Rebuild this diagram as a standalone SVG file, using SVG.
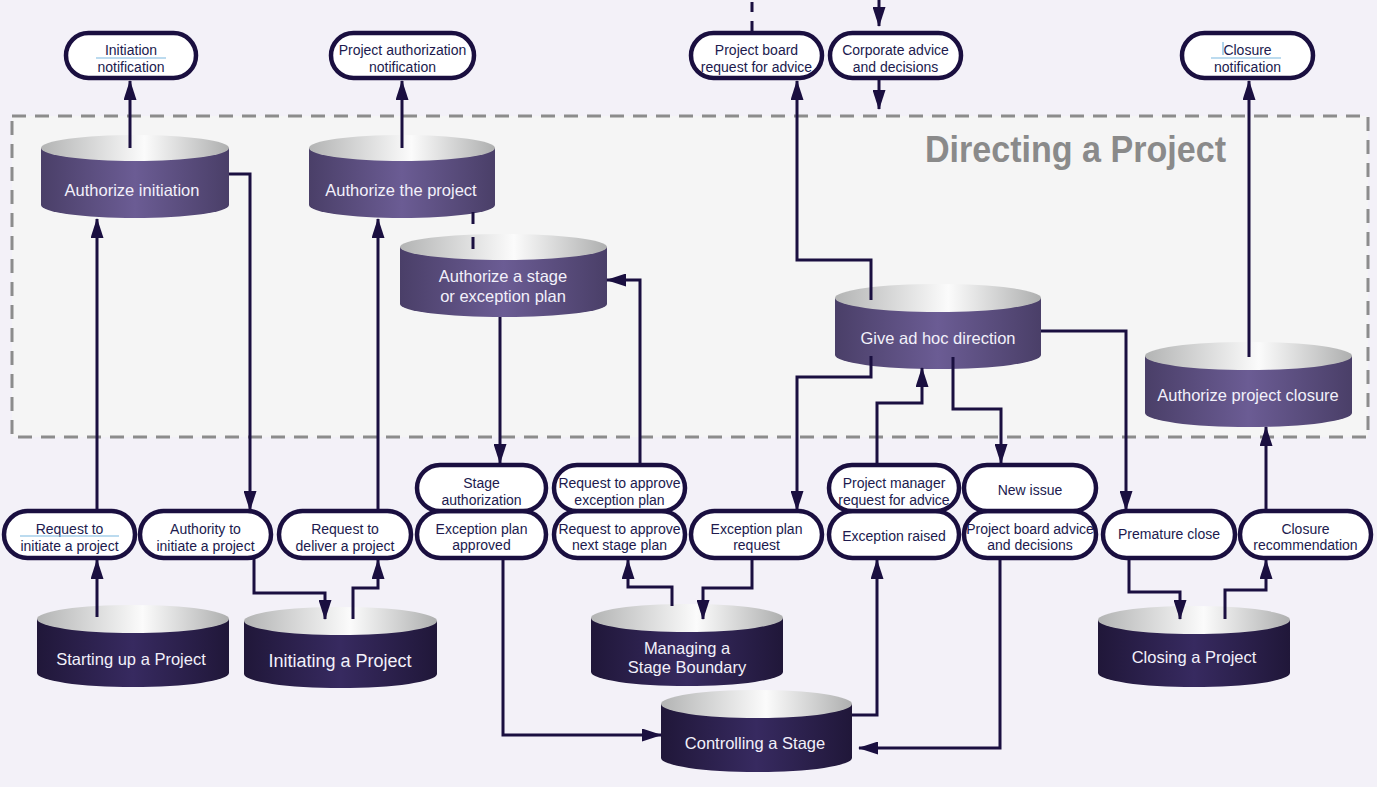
<svg xmlns="http://www.w3.org/2000/svg" width="1377" height="787" viewBox="0 0 1377 787">
<defs>
<linearGradient id="gTop" x1="0" y1="0" x2="1" y2="0"><stop offset="0" stop-color="#b3b4b4"/><stop offset="0.55" stop-color="#fbfbfb"/><stop offset="1" stop-color="#aeafaf"/></linearGradient>
<linearGradient id="gIn" x1="0" y1="0" x2="1" y2="0"><stop offset="0" stop-color="#4a3f68"/><stop offset="0.5" stop-color="#6b5c94"/><stop offset="1" stop-color="#4a3f68"/></linearGradient>
<linearGradient id="gOut" x1="0" y1="0" x2="1" y2="0"><stop offset="0" stop-color="#201739"/><stop offset="0.5" stop-color="#372a60"/><stop offset="1" stop-color="#201739"/></linearGradient>
<marker id="arr" markerUnits="userSpaceOnUse" markerWidth="20" markerHeight="13" refX="19" refY="6.5" orient="auto"><path d="M0,0 L20,6.5 L0,13 Z" fill="#1a0f40"/></marker>
<style>
.pill{fill:#ffffff;stroke:#1a0f40;stroke-width:4.5}
.pt{font-family:"Liberation Sans",Arial,sans-serif;font-size:14px;fill:#201a4e;text-anchor:middle}
.ct{font-family:"Liberation Sans",Arial,sans-serif;font-size:16.5px;fill:#f2f0fa;text-anchor:middle}
.top{fill:url(#gTop)}
.bin{fill:url(#gIn)}
.bout{fill:url(#gOut)}
.con{fill:none;stroke:#1a0f40;stroke-width:3}
.arr{marker-end:url(#arr)}
.dash{fill:none;stroke:#1a0f40;stroke-width:3;stroke-dasharray:12 13}
.blue{stroke:#7ab8e0;stroke-width:1.2;fill:none}
</style>
</defs>
<rect x="0" y="0" width="1377" height="787" fill="#f3f1f8"/>
<g id="directing-a-project">
<rect x="12" y="116" width="1356" height="321" fill="#f5f5f5" stroke="#8c8c8c" stroke-width="3" stroke-dasharray="14 9"/>
<text x="925" y="162" font-family="Liberation Sans,Arial,sans-serif" font-weight="bold" font-size="37" fill="#8a8a8a" textLength="301" lengthAdjust="spacingAndGlyphs">Directing a Project</text>
</g>

<g id="authorize-initiation"><path class="bin" d="M41,148 V205 A94,13 0 0 0 229,205 V148 Z"/><ellipse class="top" cx="135" cy="148" rx="94" ry="13"/><text class="ct" x="132" y="196">Authorize initiation</text></g>
<g id="authorize-the-project"><path class="bin" d="M309,148 V205 A93,13 0 0 0 495,205 V148 Z"/><ellipse class="top" cx="402" cy="148" rx="93" ry="13"/><text class="ct" x="401" y="196">Authorize the project</text></g>
<g id="authorize-a-stage"><path class="bin" d="M400,247 V304 A103.5,13 0 0 0 607,304 V247 Z"/><ellipse class="top" cx="503.5" cy="247" rx="103.5" ry="13"/><text class="ct" x="503" y="282">Authorize a stage</text><text class="ct" x="503" y="302">or exception plan</text></g>
<g id="give-ad-hoc-direction"><path class="bin" d="M835,298 V355 A103,14 0 0 0 1041,355 V298 Z"/><ellipse class="top" cx="938" cy="298" rx="103" ry="14"/><text class="ct" x="938" y="344">Give ad hoc direction</text></g>
<g id="authorize-project-closure"><path class="bin" d="M1145,356 V413 A103.5,14 0 0 0 1352,413 V356 Z"/><ellipse class="top" cx="1248.5" cy="356" rx="103.5" ry="14"/><text class="ct" x="1248" y="401">Authorize project closure</text></g>

<g id="starting-up"><path class="bout" d="M37,619 V673 A96,14 0 0 0 229,673 V619 Z"/><ellipse class="top" cx="133" cy="619" rx="96" ry="14"/><text class="ct" x="131" y="665">Starting up a Project</text></g>
<g id="initiating"><path class="bout" d="M244,621 V674 A96.5,14 0 0 0 437,674 V621 Z"/><ellipse class="top" cx="340.5" cy="621" rx="96.5" ry="14"/><text class="ct" x="340" y="667" style="font-size:18px">Initiating a Project</text></g>
<g id="managing-stage-boundary"><path class="bout" d="M591,618 V672 A96,14 0 0 0 783,672 V618 Z"/><ellipse class="top" cx="687" cy="618" rx="96" ry="14"/><text class="ct" x="687" y="654">Managing a</text><text class="ct" x="687" y="673">Stage Boundary</text></g>
<g id="controlling-a-stage"><path class="bout" d="M661,704 V758 A95.5,14 0 0 0 852,758 V704 Z"/><ellipse class="top" cx="756.5" cy="704" rx="95.5" ry="14"/><text class="ct" x="755" y="749">Controlling a Stage</text></g>
<g id="closing-a-project"><path class="bout" d="M1098,620 V673 A96,14 0 0 0 1290,673 V620 Z"/><ellipse class="top" cx="1194" cy="620" rx="96" ry="14"/><text class="ct" x="1194" y="663">Closing a Project</text></g>

<g id="initiation-notification"><rect class="pill" x="66" y="33" width="130" height="45" rx="22.5"/><text class="pt" x="131" y="55">Initiation</text><text class="pt" x="131" y="72">notification</text><line class="blue" x1="96" y1="58" x2="166" y2="58"/></g>
<g id="project-authorization-notification"><rect class="pill" x="331" y="33" width="143" height="45" rx="22.5"/><text class="pt" x="402.5" y="55">Project authorization</text><text class="pt" x="402.5" y="72">notification</text></g>
<g id="project-board-request"><rect class="pill" x="691" y="33" width="131" height="45" rx="22.5"/><text class="pt" x="756.5" y="55">Project board</text><text class="pt" x="756.5" y="72">request for advice</text></g>
<g id="corporate-advice"><rect class="pill" x="830" y="33" width="131" height="45" rx="22.5"/><text class="pt" x="895.5" y="55">Corporate advice</text><text class="pt" x="895.5" y="72">and decisions</text></g>
<g id="closure-notification"><rect class="pill" x="1182" y="33" width="131" height="45" rx="22.5"/><text class="pt" x="1247.5" y="55">Closure</text><text class="pt" x="1247.5" y="72">notification</text><line class="blue" x1="1211" y1="58" x2="1281" y2="58"/><line class="blue" x1="1223" y1="42" x2="1223" y2="55"/></g>

<g id="request-to-initiate"><rect class="pill" x="4" y="511" width="131" height="47" rx="23.5"/><text class="pt" x="69.5" y="534">Request to</text><text class="pt" x="69.5" y="551">initiate a project</text><line class="blue" x1="20" y1="536" x2="119" y2="536"/></g>
<g id="authority-to-initiate"><rect class="pill" x="140" y="511" width="131" height="47" rx="23.5"/><text class="pt" x="205.5" y="534">Authority to</text><text class="pt" x="205.5" y="551">initiate a project</text></g>
<g id="request-to-deliver"><rect class="pill" x="279" y="511" width="132" height="47" rx="23.5"/><text class="pt" x="345" y="534">Request to</text><text class="pt" x="345" y="551">deliver a project</text></g>
<g id="exception-plan-approved"><rect class="pill" x="417" y="511" width="129" height="47" rx="23.5"/><text class="pt" x="481.5" y="534">Exception plan</text><text class="pt" x="481.5" y="550">approved</text></g>
<g id="stage-authorization"><rect class="pill" x="417" y="465" width="129" height="46" rx="23"/><text class="pt" x="481.5" y="488">Stage</text><text class="pt" x="481.5" y="505">authorization</text></g>
<g id="request-next-stage-plan"><rect class="pill" x="554" y="511" width="131" height="47" rx="23.5"/><text class="pt" x="619.5" y="534">Request to approve</text><text class="pt" x="619.5" y="550">next stage plan</text></g>
<g id="request-exception-plan"><rect class="pill" x="554" y="465" width="131" height="46" rx="23"/><text class="pt" x="619.5" y="488">Request to approve</text><text class="pt" x="619.5" y="505">exception plan</text></g>
<g id="exception-plan-request"><rect class="pill" x="691" y="511" width="131" height="47" rx="23.5"/><text class="pt" x="756.5" y="534">Exception plan</text><text class="pt" x="756.5" y="550">request</text></g>
<g id="exception-raised"><rect class="pill" x="829" y="511" width="130" height="47" rx="23.5"/><text class="pt" x="894" y="541">Exception raised</text></g>
<g id="pm-request-for-advice"><rect class="pill" x="829" y="465" width="130" height="46" rx="23"/><text class="pt" x="894" y="488">Project manager</text><text class="pt" x="894" y="505">request for advice</text></g>
<g id="board-advice-decisions"><rect class="pill" x="964" y="511" width="132" height="47" rx="23.5"/><text class="pt" x="1030" y="534">Project board advice</text><text class="pt" x="1030" y="550">and decisions</text></g>
<g id="new-issue"><rect class="pill" x="964" y="465" width="132" height="46" rx="23"/><text class="pt" x="1030" y="495">New issue</text></g>
<g id="premature-close"><rect class="pill" x="1103" y="511" width="132" height="47" rx="23.5"/><text class="pt" x="1169" y="539">Premature close</text></g>
<g id="closure-recommendation"><rect class="pill" x="1240" y="511" width="131" height="47" rx="23.5"/><text class="pt" x="1305.5" y="534">Closure</text><text class="pt" x="1305.5" y="550">recommendation</text></g>

<g id="connectors">
<path class="con arr" d="M130,148 V81"/>
<path class="con arr" d="M97,510 V219"/>
<path class="con arr" d="M97,617 V560"/>
<path class="con arr" d="M229,174 H250 V510"/>
<path class="con arr" d="M254,559 V593 H325 V619"/>
<path class="con arr" d="M353,619 V588 H378 V560"/>
<path class="con arr" d="M378,510 V219"/>
<path class="con arr" d="M402,148 V81"/>
<path class="dash" d="M473,212 V253"/>
<path class="con arr" d="M500,317 V463"/>
<path class="con arr" d="M640,463 V280 H607"/>
<path class="con arr" d="M503,559 V735 H661"/>
<path class="con arr" d="M672,606 V587 H628 V560"/>
<path class="con arr" d="M752,559 V588 H703 V619"/>
<path class="con arr" d="M871,356 V377 H797 V510"/>
<path class="con arr" d="M871,300 V260 H797 V81"/>
<path class="dash" d="M752,31 V0" style="stroke-dasharray:10 9"/>
<path class="con arr" d="M879,0 V26"/>
<path class="con arr" d="M879,80 V109"/>
<path class="con arr" d="M877,463 V403 H922 V368"/>
<path class="con arr" d="M953,357 V409 H1001 V463"/>
<path class="con arr" d="M1041,331 H1126 V510"/>
<path class="con arr" d="M852,715 H877 V560"/>
<path class="con arr" d="M1000,559 V748 H859"/>
<path class="con arr" d="M1129,559 V592 H1180 V619"/>
<path class="con arr" d="M1225,619 V590 H1266 V560"/>
<path class="con arr" d="M1266,510 V427"/>
<path class="con arr" d="M1249,357 V81"/>
</g>
</svg>
